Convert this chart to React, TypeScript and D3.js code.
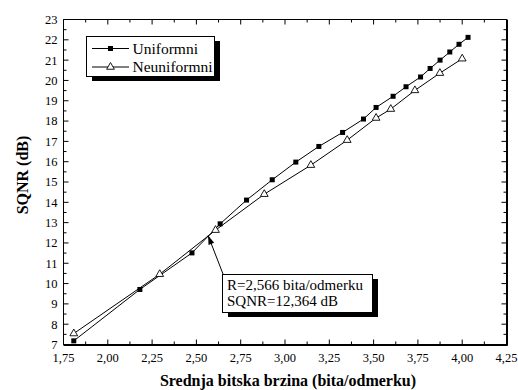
import React from 'react';
import * as d3 from 'd3';

// Uniformni kvantizer
const uniRate = [1.808, 2.181, 2.475, 2.634, 2.783, 2.928, 3.061, 3.191, 3.325, 3.443, 3.514, 3.610, 3.683, 3.765, 3.819, 3.875, 3.930, 3.982, 4.033];
const uniSqnr = [7.18, 9.71, 11.51, 12.94, 14.11, 15.11, 15.98, 16.75, 17.44, 18.10, 18.67, 19.22, 19.69, 20.17, 20.59, 21.00, 21.40, 21.78, 22.12];

// Neuniformni kvantizer
const neuRate = [1.808, 2.293, 2.608, 2.883, 3.146, 3.351, 3.514, 3.597, 3.733, 3.874, 4.000];
const neuSqnr = [7.54, 10.46, 12.63, 14.40, 15.83, 17.06, 18.15, 18.59, 19.51, 20.36, 21.07];

const seriesNames = ['Uniformni', 'Neuniformni'];
const xTicks = [1.75, 2.0, 2.25, 2.5, 2.75, 3.0, 3.25, 3.5, 3.75, 4.0, 4.25];
const yTicks = d3.range(7, 24, 1);
const cross = { r: 2.566, sqnr: 12.364 };
const noteLines = ['R=2,566 bita/odmerku', 'SQNR=12,364 dB'];

const W = 518;
const H = 390;
const m = { left: 63.5, right: 11.5, top: 19.5, bottom: 45.5 };
const FONT = "'Liberation Serif', 'Times New Roman', serif";

export default function App() {
  const x = d3.scaleLinear().domain([1.75, 4.25]).range([m.left, W - m.right]);
  const y = d3.scaleLinear().domain([7, 23]).range([H - m.bottom, m.top]);
  const fmt = (v: number) => v.toFixed(2).replace('.', ',');

  const line = d3.line<[number, number]>().x(d => x(d[0])).y(d => y(d[1]));
  const uni: [number, number][] = uniRate.map((r, i) => [r, uniSqnr[i]]);
  const neu: [number, number][] = neuRate.map((r, i) => [r, neuSqnr[i]]);

  const x0 = x(1.75), x1 = x(4.25), y0 = y(7), y1 = y(23);
  const xMinor = d3.range(1.875, 4.25, 0.25);
  const yMinor = d3.range(7.5, 23, 1);
  const tri = d3.symbol().type(d3.symbolTriangle).size(26)()!;

  // strelica do preseka
  const ax = x(cross.r), ay = y(cross.sqnr);
  const bx = 223, by = 274;
  const ang = Math.atan2(ay - by, ax - bx);
  const hl = 9, hw = 3;
  const head = [
    [ax, ay],
    [ax - hl * Math.cos(ang) + hw * Math.sin(ang), ay - hl * Math.sin(ang) - hw * Math.cos(ang)],
    [ax - hl * Math.cos(ang) - hw * Math.sin(ang), ay - hl * Math.sin(ang) + hw * Math.cos(ang)],
  ].map(p => p.join(',')).join(' ');

  return (
    <svg width={W} height={H} style={{ position: 'absolute', left: 0, top: 0, background: '#fff', fontFamily: FONT }}>
      {/* ticks */}
      {xTicks.map(t => (
        <g key={'xt' + t} stroke="#000" strokeWidth={1}>
          <line x1={x(t)} x2={x(t)} y1={y0} y2={y0 - 5} />
          <line x1={x(t)} x2={x(t)} y1={y1} y2={y1 + 5} />
        </g>
      ))}
      {xMinor.map(t => (
        <g key={'xm' + t} stroke="#000" strokeWidth={1}>
          <line x1={x(t)} x2={x(t)} y1={y0} y2={y0 - 3} />
          <line x1={x(t)} x2={x(t)} y1={y1} y2={y1 + 3} />
        </g>
      ))}
      {yTicks.map(t => (
        <g key={'yt' + t} stroke="#000" strokeWidth={1}>
          <line x1={x0} x2={x0 + 5} y1={y(t)} y2={y(t)} />
          <line x1={x1} x2={x1 - 5} y1={y(t)} y2={y(t)} />
        </g>
      ))}
      {yMinor.map(t => (
        <g key={'ym' + t} stroke="#000" strokeWidth={1}>
          <line x1={x0} x2={x0 + 3} y1={y(t)} y2={y(t)} />
          <line x1={x1} x2={x1 - 3} y1={y(t)} y2={y(t)} />
        </g>
      ))}
      {/* frame */}
      <line x1={x0} x2={x1} y1={y1} y2={y1} stroke="#000" />
      <line x1={x0} x2={x0} y1={y1} y2={y0} stroke="#000" />
      <line x1={x0} x2={x1 + 1} y1={y0 + 0.5} y2={y0 + 0.5} stroke="#000" strokeWidth={2} />
      <line x1={x1 + 0.5} x2={x1 + 0.5} y1={y1} y2={y0 + 1} stroke="#000" strokeWidth={2} />

      {/* tick labels */}
      {xTicks.map(t => (
        <text key={'xl' + t} x={x(t)} y={y0 + 17} fontSize={12.5} textAnchor="middle" style={{ fontFamily: FONT }}>{fmt(t)}</text>
      ))}
      {yTicks.map(t => (
        <text key={'yl' + t} x={x0 - 6} y={y(t)} dy="0.35em" fontSize={12.5} textAnchor="end" style={{ fontFamily: FONT }}>{t}</text>
      ))}

      {/* axis titles */}
      <text x={288} y={386} fontSize={16} fontWeight="bold" textAnchor="middle" style={{ fontFamily: FONT }}>Srednja bitska brzina (bita/odmerku)</text>
      <text transform="translate(28,175) rotate(-90)" fontSize={16} fontWeight="bold" textAnchor="middle" style={{ fontFamily: FONT }}>SQNR (dB)</text>

      {/* series */}
      <path d={line(uni)!} fill="none" stroke="#000" strokeWidth={1} />
      <path d={line(neu)!} fill="none" stroke="#000" strokeWidth={1} />
      {uni.map((d, i) => (
        <rect key={'u' + i} x={x(d[0]) - 2.5} y={y(d[1]) - 2.5} width={5} height={5} fill="#000" />
      ))}
      {neu.map((d, i) => (
        <path key={'n' + i} d={tri} transform={`translate(${x(d[0])},${y(d[1])})`} fill="#fff" stroke="#000" strokeWidth={0.9} />
      ))}

      {/* annotation */}
      <line x1={bx} y1={by} x2={ax} y2={ay} stroke="#000" strokeWidth={1} />
      <polygon points={head} fill="#000" />
      <rect x={228} y={279} width={150} height={38} fill="#000" />
      <rect x={222.5} y={274.5} width={150} height={38} fill="#fff" stroke="#000" />
      {noteLines.map((t, i) => (
        <text key={t} x={227} y={290 + i * 16} fontSize={15} style={{ fontFamily: FONT }}>{t}</text>
      ))}

      {/* legend */}
      <rect x={92} y={41} width={128} height={40} fill="#000" />
      <rect x={86.5} y={36.5} width={128} height={40} fill="#fff" stroke="#000" />
      {seriesNames.map((s, i) => {
        const ly = 48.5 + i * 18.5;
        return (
          <g key={s}>
            <line x1={92} x2={129} y1={ly} y2={ly} stroke="#000" />
            {i === 0
              ? <rect x={108} y={ly - 2.5} width={5} height={5} fill="#000" />
              : <path d={tri} transform={`translate(110.5,${ly})`} fill="#fff" stroke="#000" strokeWidth={0.9} />}
            <text x={132.5} y={ly} dy="0.35em" fontSize={15.5} style={{ fontFamily: FONT }}>{s}</text>
          </g>
        );
      })}
    </svg>
  );
}
